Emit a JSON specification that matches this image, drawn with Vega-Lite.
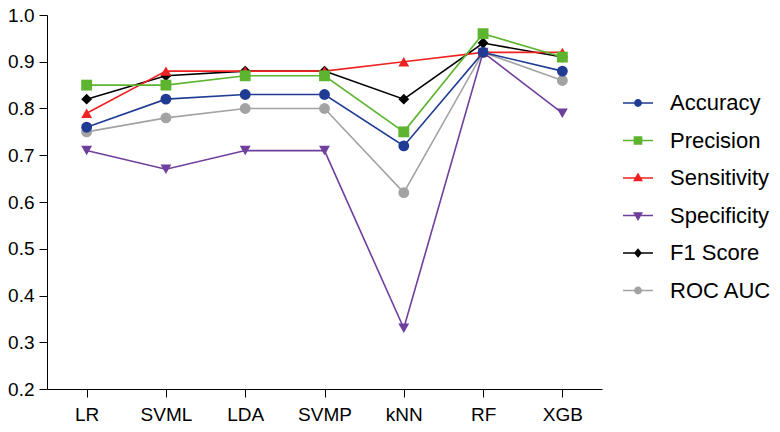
{
  "$schema": "https://vega.github.io/schema/vega-lite/v6.json",
  "description": "Model comparison: six metrics for seven classifiers.",
  "autosize": "none",
  "padding": {"left": 47, "top": 15, "right": 178, "bottom": 43},
  "width": 555,
  "height": 374,
  "config": {
    "view": {"stroke": null},
    "font": "Liberation Sans",
    "axis": {
      "domainColor": "#000000",
      "tickColor": "#000000",
      "labelColor": "#000000",
      "labelFont": "Liberation Sans",
      "labelFontSize": 19,
      "tickSize": 8,
      "grid": false,
      "title": null
    },
    "legend": {
      "labelFont": "Liberation Sans",
      "labelFontSize": 22,
      "labelColor": "#000000"
    }
  },
  "data": {
    "values": [
      {"model": "LR", "metric": "ROC AUC", "value": 0.75},
      {"model": "SVML", "metric": "ROC AUC", "value": 0.78},
      {"model": "LDA", "metric": "ROC AUC", "value": 0.80},
      {"model": "SVMP", "metric": "ROC AUC", "value": 0.80},
      {"model": "kNN", "metric": "ROC AUC", "value": 0.62},
      {"model": "RF", "metric": "ROC AUC", "value": 0.92},
      {"model": "XGB", "metric": "ROC AUC", "value": 0.86},
      {"model": "LR", "metric": "F1 Score", "value": 0.82},
      {"model": "SVML", "metric": "F1 Score", "value": 0.87},
      {"model": "LDA", "metric": "F1 Score", "value": 0.88},
      {"model": "SVMP", "metric": "F1 Score", "value": 0.88},
      {"model": "kNN", "metric": "F1 Score", "value": 0.82},
      {"model": "RF", "metric": "F1 Score", "value": 0.94},
      {"model": "XGB", "metric": "F1 Score", "value": 0.91},
      {"model": "LR", "metric": "Specificity", "value": 0.71},
      {"model": "SVML", "metric": "Specificity", "value": 0.67},
      {"model": "LDA", "metric": "Specificity", "value": 0.71},
      {"model": "SVMP", "metric": "Specificity", "value": 0.71},
      {"model": "kNN", "metric": "Specificity", "value": 0.33},
      {"model": "RF", "metric": "Specificity", "value": 0.92},
      {"model": "XGB", "metric": "Specificity", "value": 0.79},
      {"model": "LR", "metric": "Sensitivity", "value": 0.79},
      {"model": "SVML", "metric": "Sensitivity", "value": 0.88},
      {"model": "LDA", "metric": "Sensitivity", "value": 0.88},
      {"model": "SVMP", "metric": "Sensitivity", "value": 0.88},
      {"model": "kNN", "metric": "Sensitivity", "value": 0.90},
      {"model": "RF", "metric": "Sensitivity", "value": 0.92},
      {"model": "XGB", "metric": "Sensitivity", "value": 0.92},
      {"model": "LR", "metric": "Precision", "value": 0.85},
      {"model": "SVML", "metric": "Precision", "value": 0.85},
      {"model": "LDA", "metric": "Precision", "value": 0.87},
      {"model": "SVMP", "metric": "Precision", "value": 0.87},
      {"model": "kNN", "metric": "Precision", "value": 0.75},
      {"model": "RF", "metric": "Precision", "value": 0.96},
      {"model": "XGB", "metric": "Precision", "value": 0.91},
      {"model": "LR", "metric": "Accuracy", "value": 0.76},
      {"model": "SVML", "metric": "Accuracy", "value": 0.82},
      {"model": "LDA", "metric": "Accuracy", "value": 0.83},
      {"model": "SVMP", "metric": "Accuracy", "value": 0.83},
      {"model": "kNN", "metric": "Accuracy", "value": 0.72},
      {"model": "RF", "metric": "Accuracy", "value": 0.92},
      {"model": "XGB", "metric": "Accuracy", "value": 0.88}
    ]
  },
  "encoding": {
    "x": {
      "field": "model",
      "type": "nominal",
      "scale": {
        "type": "point",
        "padding": 0.5,
        "domain": ["LR", "SVML", "LDA", "SVMP", "kNN", "RF", "XGB"]
      },
      "axis": {"labelAngle": 0, "labelPadding": 8}
    },
    "y": {
      "field": "value",
      "type": "quantitative",
      "scale": {"domain": [0.2, 1.0], "nice": false, "zero": false},
      "axis": {
        "values": [0.2, 0.3, 0.4, 0.5, 0.6, 0.7, 0.8, 0.9, 1.0],
        "format": ".1f",
        "labelPadding": 5
      }
    }
  },
  "layer": [
    {
      "mark": {"type": "line", "strokeWidth": 1.6},
      "encoding": {
        "color": {
          "field": "metric",
          "type": "nominal",
          "scale": {
            "domain": ["Accuracy", "Precision", "Sensitivity", "Specificity", "F1 Score", "ROC AUC"],
            "range": ["#1f3b94", "#5db42f", "#ee2222", "#6f3f9c", "#000000", "#a3a3a3"]
          },
          "legend": null
        },
        "detail": {"field": "metric", "type": "nominal"}
      }
    },
    {
      "mark": {"type": "point", "filled": true, "opacity": 1, "size": 118},
      "encoding": {
        "color": {
          "field": "metric",
          "type": "nominal",
          "scale": {
            "domain": ["Accuracy", "Precision", "Sensitivity", "Specificity", "F1 Score", "ROC AUC"],
            "range": ["#1f3b94", "#5db42f", "#ee2222", "#6f3f9c", "#000000", "#a3a3a3"]
          },
          "legend": null
        },
        "shape": {
          "field": "metric",
          "type": "nominal",
          "scale": {
            "domain": ["Accuracy", "Precision", "Sensitivity", "Specificity", "F1 Score", "ROC AUC"],
            "range": ["circle", "square", "triangle-up", "triangle-down", "diamond", "circle"]
          },
          "legend": null
        }
      }
    },
    {
      "transform": [{"filter": "false"}],
      "mark": {"type": "point", "filled": true, "opacity": 1},
      "encoding": {
        "color": {
          "field": "metric",
          "type": "nominal",
          "scale": {
            "domain": ["Accuracy", "Precision", "Sensitivity", "Specificity", "F1 Score", "ROC AUC"],
            "range": ["#1f3b94", "#5db42f", "#ee2222", "#6f3f9c", "#000000", "#a3a3a3"]
          },
          "legend": {
            "title": null,
            "orient": "none",
            "legendX": 575,
            "legendY": 72,
            "symbolSize": 900,
            "symbolStrokeWidth": 1.5,
            "labelOffset": 16,
            "rowPadding": 10.5
          }
        },
        "stroke": {
          "field": "metric",
          "type": "nominal",
          "scale": {
            "domain": ["Accuracy", "Precision", "Sensitivity", "Specificity", "F1 Score", "ROC AUC"],
            "range": ["#1f3b94", "#5db42f", "#ee2222", "#6f3f9c", "#000000", "#a3a3a3"]
          },
          "legend": {
            "title": null,
            "orient": "none",
            "legendX": 575,
            "legendY": 72,
            "symbolSize": 900,
            "symbolStrokeWidth": 1.5,
            "labelOffset": 16,
            "rowPadding": 10.5
          }
        },
        "shape": {
          "field": "metric",
          "type": "nominal",
          "scale": {
            "domain": ["Accuracy", "Precision", "Sensitivity", "Specificity", "F1 Score", "ROC AUC"],
            "range": [
              "M-1,0H1M0.21,0A0.21,0.21,0,1,1,-0.21,0A0.21,0.21,0,1,1,0.21,0Z",
              "M-1,0H1M-0.24,-0.24H0.24V0.24H-0.24Z",
              "M-1,0H1M0,-0.27L0.25,0.17H-0.25Z",
              "M-1,0H1M0,0.27L0.25,-0.17H-0.25Z",
              "M-1,0H1M0,-0.24L0.2,0L0,0.24L-0.2,0Z",
              "M-1,0H1M0.21,0A0.21,0.21,0,1,1,-0.21,0A0.21,0.21,0,1,1,0.21,0Z"
            ]
          },
          "legend": {
            "title": null,
            "orient": "none",
            "legendX": 575,
            "legendY": 72,
            "symbolSize": 900,
            "symbolStrokeWidth": 1.5,
            "labelOffset": 16,
            "rowPadding": 10.5
          }
        }
      }
    }
  ],
  "resolve": {
    "scale": {"color": "independent", "shape": "independent", "stroke": "independent"},
    "legend": {"color": "independent", "shape": "independent", "stroke": "independent"}
  }
}
